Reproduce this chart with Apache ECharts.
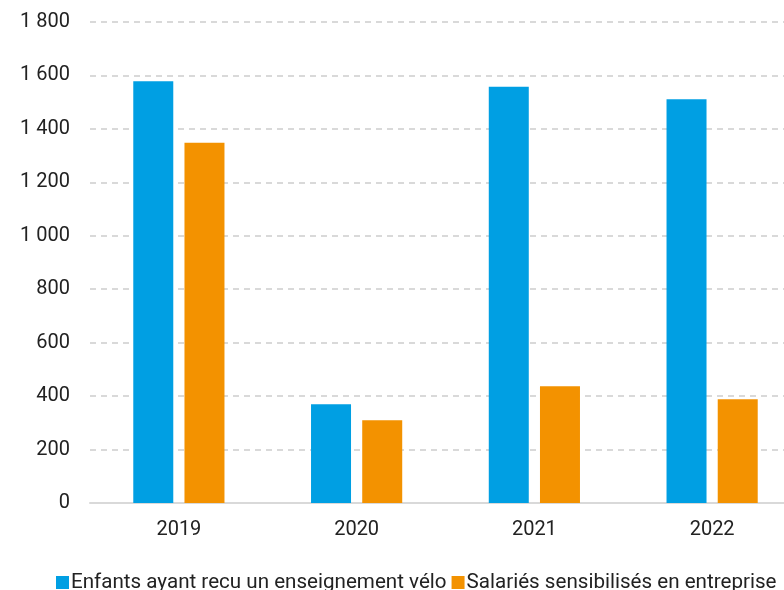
<!DOCTYPE html>
<html>
<head>
<meta charset="utf-8">
<script src="https://cdn.jsdelivr.net/npm/echarts@6/dist/echarts.min.js"></script>
<style>
  html, body { margin: 0; padding: 0; background: #fff; }
  #chart { width: 784px; height: 590px; }
</style>
</head>
<body>
<div id="chart"></div>
<script>
// données
const years = ['2019', '2020', '2021', '2022']
const enfants = [1578, 370, 1558, 1511]
const salaries = [1348, 310, 437, 388]
const seriesNames = ['Enfants ayant recu un enseignement vélo', 'Salariés sensibilisés en entreprise']

const chart = echarts.init(document.getElementById('chart'))

// séparateur de milliers avec espace
function fmt(v) {
  return String(v).replace(/\B(?=(\d{3})+(?!\d))/g, ' ')
}

const font = 'Roboto, "DejaVu Sans", sans-serif'

chart.setOption({
  backgroundColor: '#fff',
  animation: false,
  textStyle: { fontFamily: font },
  legend: {
    left: 51,
    top: 567,
    itemWidth: 13,
    itemHeight: 13,
    itemGap: 5,
    icon: 'rect',
    textStyle: { fontSize: 20.6, color: '#222', fontFamily: font, padding: [0, 0, 0, -3] },
    data: seriesNames,
  },
  grid: {
    left: 90,
    top: 22,
    width: 711,
    height: 481,
    outerBoundsMode: 'none',
  },
  xAxis: {
    type: 'category',
    data: years,
    axisLine: { show: true, lineStyle: { color: '#d9d9d9', width: 2 } },
    axisTick: { show: false },
    axisLabel: { color: '#222', fontSize: 20, margin: 17 },
  },
  yAxis: {
    type: 'value',
    min: 0,
    max: 1800,
    interval: 200,
    axisLine: { show: false },
    axisTick: { show: false },
    axisLabel: {
      color: '#222',
      fontSize: 20,
      margin: 20,
      formatter: (v) => fmt(v),
    },
    splitLine: {
      lineStyle: { color: '#d9d9d9', width: 2, type: [6, 5] },
    },
  },
  series: [
    {
      name: seriesNames[0],
      type: 'bar',
      data: enfants,
      barWidth: 40,
      barGap: '28%',
      itemStyle: { color: '#009fe3' },
    },
    {
      name: seriesNames[1],
      type: 'bar',
      data: salaries,
      barWidth: 40,
      itemStyle: { color: '#f39200' },
    },
  ],
})
</script>
</body>
</html>
